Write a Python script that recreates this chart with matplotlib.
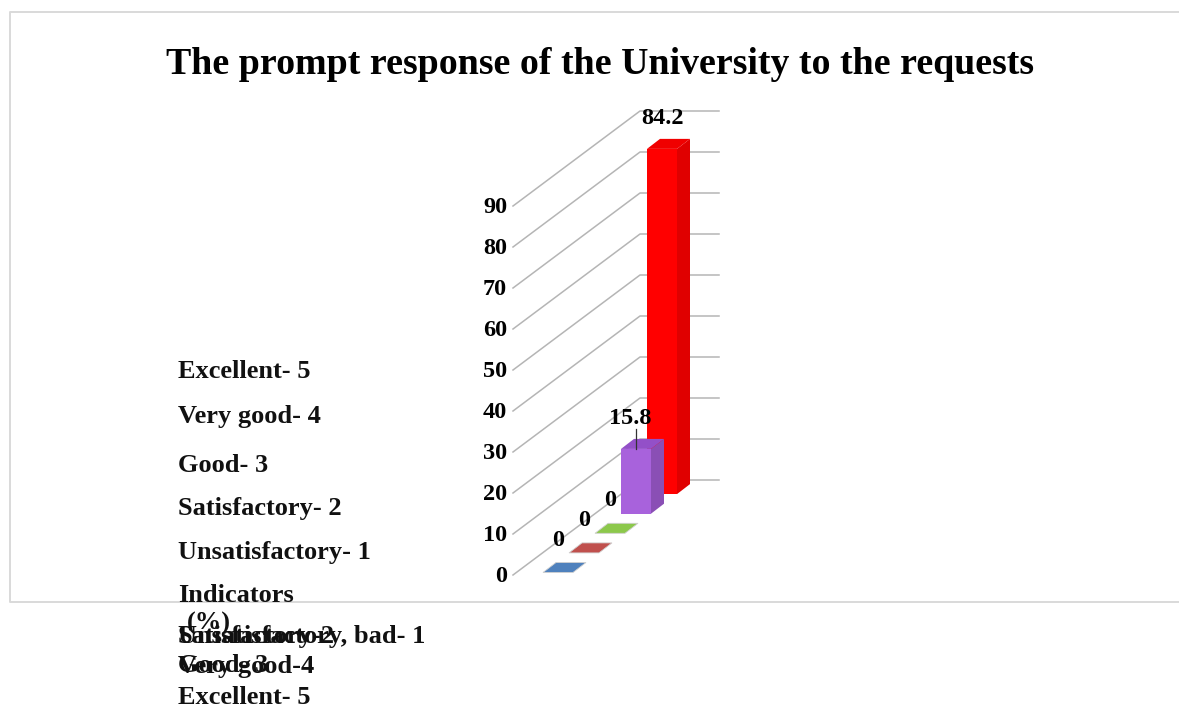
import matplotlib
matplotlib.use("Agg")
import matplotlib.pyplot as plt
from matplotlib.patches import Polygon

plt.rcParams['font.family'] = ['Liberation Serif', 'DejaVu Sans']

# ---- data ----
title = "The prompt response of the University to the requests"
categories = ["Unsatisfactory, bad- 1", "Satisfactory-2", "Good- 3", "Very good-4", "Excellent- 5"]
values = [0, 0, 0, 15.8, 84.2]
value_labels = ["0", "0", "0", "15.8", "84.2"]
colors = ["#4f81bd", "#c0504d", "#8cc84b", "#a862dc", "#ff0000"]
side_colors = ["#3c6a9f", "#a03f3c", "#70a83a", "#8a4fb5", "#e00000"]
top_colors = ["#4f81bd", "#c0504d", "#8cc84b", "#9350c8", "#f00000"]
yticks = [0, 10, 20, 30, 40, 50, 60, 70, 80, 90]
legend_upper = ["Excellent- 5", "Very good- 4", "Good- 3", "Satisfactory- 2", "Unsatisfactory- 1", "Indicators"]
legend_upper_y = [372, 417, 466, 509, 553, 595]
legend_lower_y = [637, 637, 666, 666, 698]

# ---- layout (pixel space of the figure) ----
W, H = 1179, 708
fig = plt.figure(figsize=(W / 100, H / 100), dpi=100)
ax = fig.add_axes([0, 0, 1, 1])
ax.set_xlim(0, W)
ax.set_ylim(H, 0)
ax.axis("off")

ORIGIN = (513, 575)      # front wall, value 0
UNIT = 4.1               # pixels per value unit
DEPTH = (127, -95)       # floor vector, front to back wall
WALL_END = 719
CAT0 = (543, 572.5)      # front-left floor corner of first bar
CAT_STEP = (26, -19.6)
BAR_W = 30
BAR_D = (13, -10)
NUM_SIZE = 17.5
TEXT_SIZE = 19


def wall(v, d=0.0):
    return ORIGIN[0] + DEPTH[0] * d, ORIGIN[1] + DEPTH[1] * d - UNIT * v


def bar(i, v, dx=0.0, dd=0.0):
    """Pixel of a bar corner: dx of width, dd of depth, height v."""
    return (CAT0[0] + CAT_STEP[0] * i + BAR_W * dx + BAR_D[0] * dd,
            CAT0[1] + CAT_STEP[1] * i + BAR_D[1] * dd - UNIT * v)


# frame
ax.plot([W, 10, 10, W], [12, 12, 602, 602], color="#d9d9d9", lw=1.4, zorder=1)

# gridlines and tick labels
for t in yticks:
    x0, y0 = wall(t)
    x1, y1 = wall(t, 1)
    ax.plot([x0, x1, WALL_END], [y0, y1, y1], color="#b5b5b5", lw=1.1, zorder=2)
    ax.text(x0 - 6, y0 + 1.5, str(t), ha="right", va="center", fontsize=NUM_SIZE,
            fontweight="bold", color="black", zorder=6)

# bars, back to front
for i in reversed(range(len(values))):
    v = values[i]
    z = 3 + (len(values) - i) * 0.1
    if v > 0:
        ax.add_patch(Polygon([bar(i, 0, 1), bar(i, 0, 1, 1), bar(i, v, 1, 1), bar(i, v, 1)],
                             fc=side_colors[i], ec="none", zorder=z))
        ax.add_patch(Polygon([bar(i, v), bar(i, v, 1), bar(i, v, 1, 1), bar(i, v, 0, 1)],
                             fc=top_colors[i], ec="none", zorder=z))
        ax.add_patch(Polygon([bar(i, 0), bar(i, 0, 1), bar(i, v, 1), bar(i, v)],
                             fc=colors[i], ec="none", zorder=z))
    else:
        ax.add_patch(Polygon([bar(i, 0), bar(i, 0, 1), bar(i, 0, 1, 1), bar(i, 0, 0, 1)],
                             fc=colors[i], ec="#d0d0d0", lw=0.6, zorder=z))

# data labels
for i, (v, s) in enumerate(zip(values, value_labels)):
    bx, by = bar(i, v, 0.5)
    if v == 0:
        ax.text(bx, by - 32.5, s, ha="center", va="center", fontsize=NUM_SIZE,
                fontweight="bold", zorder=7)
    elif i == 3:
        ax.text(bx - 6, by - 30, s, ha="center", va="center", fontsize=NUM_SIZE,
                fontweight="bold", zorder=7)
        ax.plot([bx, bx], [by - 20, by], color="#333333", lw=0.9, zorder=7)
    else:
        ax.text(bx, by - 30, s, ha="center", va="center", fontsize=NUM_SIZE,
                fontweight="bold", zorder=7)

# title
ax.text(600, 64, title, ha="center", va="center", fontsize=27.3, fontweight="bold", color="black")

# overlapping category text at left
for s, y in zip(legend_upper, legend_upper_y):
    ax.text(178, y, s, ha="left", va="center", fontsize=TEXT_SIZE, fontweight="bold", color="#111111")
ax.text(187, 623, "(%)", ha="left", va="center", fontsize=TEXT_SIZE, fontweight="bold", color="#111111")
for s, y in zip(categories, legend_lower_y):
    ax.text(178, y, s, ha="left", va="center", fontsize=TEXT_SIZE, fontweight="bold", color="#111111")

fig.savefig("out.png", dpi=100, facecolor="white")
